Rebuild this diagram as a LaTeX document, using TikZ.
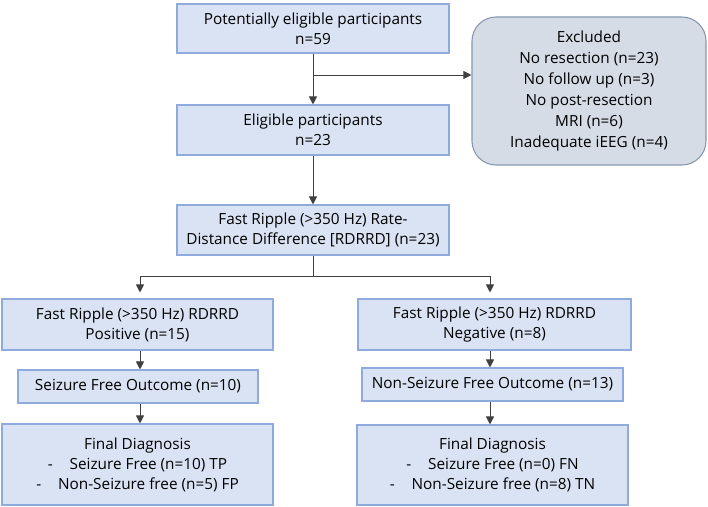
\documentclass[tikz,border=0pt]{standalone}
\usepackage{fontspec}
\setmainfont{Open Sans}
\usetikzlibrary{arrows.meta}
\definecolor{boxfill}{HTML}{DAE3F3}
\definecolor{boxline}{HTML}{8FAADC}
\definecolor{exfill}{HTML}{D6DCE5}
\definecolor{exline}{HTML}{8497B0}
\definecolor{conn}{HTML}{404040}
\begin{document}
\begin{tikzpicture}[x=0.75pt,y=-0.75pt,
  box/.style={draw=boxline, fill=boxfill, line width=0.8pt, align=center, inner sep=2pt,
    font=\fontsize{11.5}{15}\selectfont},
  exbox/.style={draw=exline, fill=exfill, line width=0.8pt, align=center, rounded corners=18pt,
    font=\fontsize{11.5}{15.75}\selectfont},
  arr/.style={draw=conn, line width=0.75pt, -{Triangle[length=6pt,width=6pt]}},
  ln/.style={draw=conn, line width=0.75pt}]
\useasboundingbox (0,0) rectangle (708,507);
\node[box, minimum width=204pt, minimum height=36.75pt] (top) at (313,28.5) {Potentially eligible participants\\n=59};
\node[box, minimum width=204pt, minimum height=37.5pt] (elig) at (313,130) {Eligible participants\\n=23};
\node[exbox, minimum width=175.5pt, minimum height=111pt] (excl) at (589,91) {Excluded\\No resection (n=23)\\No follow up (n=3)\\No post-resection\\MRI (n=6)\\Inadequate iEEG (n=4)};
\node[box, minimum width=204pt, minimum height=37.5pt] (fr) at (313,230) {Fast Ripple (>350 Hz) Rate-\\Distance Difference [RDRRD] (n=23)};
\node[box, minimum width=203.25pt, minimum height=38.25pt] (pos) at (137.5,324.5) {Fast Ripple (>350 Hz) RDRRD\\Positive (n=15)};
\node[box, minimum width=180pt, minimum height=24.75pt] (sf) at (138,386.5) {Seizure Free Outcome (n=10)};
\node[box, minimum width=203.25pt, minimum height=60.75pt] (fdl) at (137.5,464.5) {Final Diagnosis\\-\hspace{1.1em}Seizure Free (n=10) TP\\-\hspace{1.1em}Non-Seizure free (n=5) FP};
\node[box, minimum width=204.75pt, minimum height=38.25pt] (neg) at (494.5,324.5) {Fast Ripple (>350 Hz) RDRRD\\Negative (n=8)};
\node[box, minimum width=195.75pt, minimum height=24.75pt] (nsf) at (492.5,384.5) {Non-Seizure Free Outcome (n=13)};
\node[box, minimum width=203.25pt, minimum height=60pt] (fdr) at (492.5,465) {Final Diagnosis\\-\hspace{1.1em}Seizure Free (n=0) FN\\-\hspace{1.1em}Non-Seizure free (n=8) TN};
\coordinate (split) at (313,75);
\coordinate (branch) at (313,276);
\coordinate (lx) at (140,0);
\coordinate (rx) at (490,0);
\draw[arr] (top) -- (elig);
\draw[arr] (split) -- (excl.west |- split);
\draw[arr] (elig) -- (fr);
\draw[ln] (fr.south) -- (branch);
\draw[arr, shorten >=4.5pt] (branch) -| (pos.north -| lx);
\draw[arr, shorten >=4.5pt] (branch) -| (neg.north -| rx);
\draw[arr] (pos.south -| lx) -- (sf.north -| lx);
\draw[arr] (sf.south -| lx) -- (fdl.north -| lx);
\draw[arr] (neg.south -| rx) -- (nsf.north -| rx);
\draw[arr] (nsf.south -| rx) -- (fdr.north -| rx);
\end{tikzpicture}
\end{document}
